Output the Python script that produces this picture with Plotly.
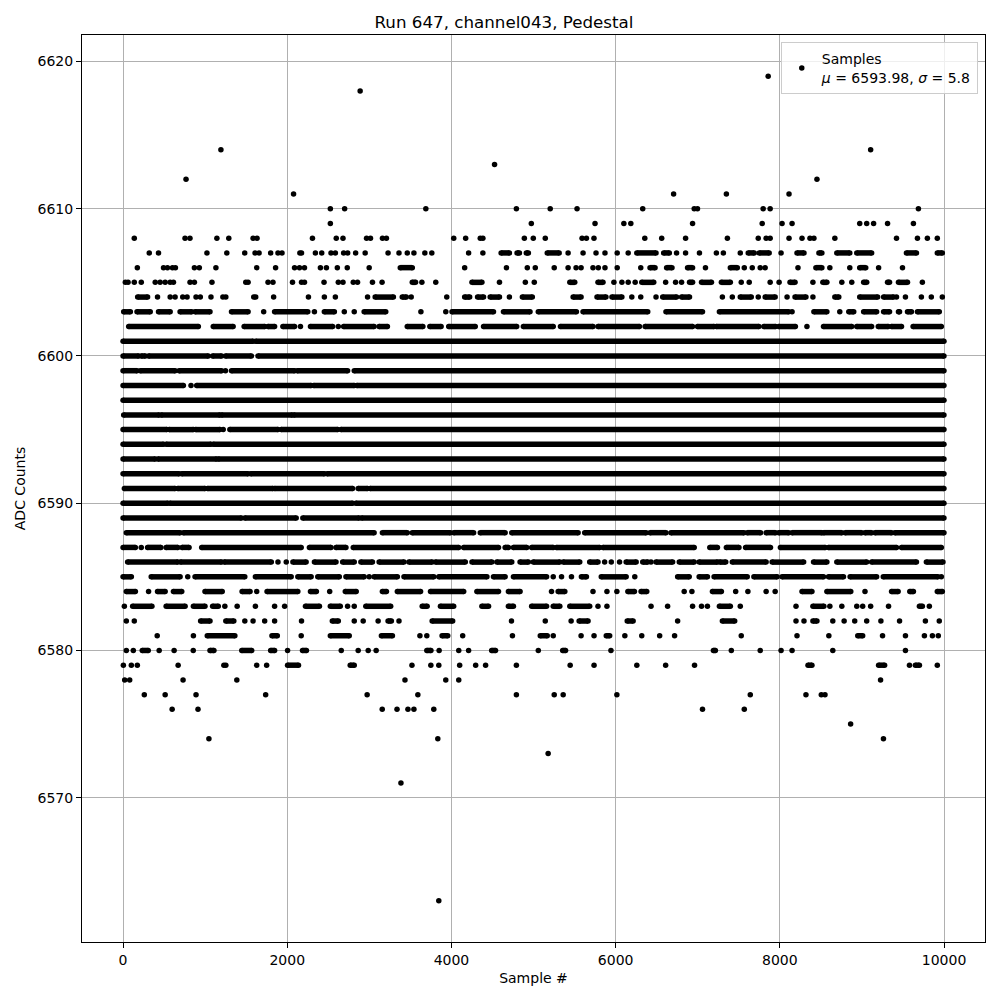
import plotly.graph_objects as go

# ADC levels (counts) and, for each level, the sample indices where dots appear.
# An int is a single sample; a (start, end) pair is a run of adjacent samples.
levels = [6563, 6571, 6573, 6574, 6575, 6576, 6577, 6578, 6579, 6580, 6581, 6582,
          6583, 6584, 6585, 6586, 6587, 6588, 6589, 6590, 6591, 6592, 6593, 6594,
          6595, 6596, 6597, 6598, 6599, 6600, 6601, 6602, 6603, 6604, 6605, 6606,
          6607, 6608, 6609, 6610, 6611, 6612, 6613, 6614, 6618, 6619]

s6563 = [3846]
s6571 = [3385]
s6573 = [5178]
s6574 = [1046, 3834, 9262]
s6575 = [8862]
s6576 = [598, 913, 3157, 3337, 3470, 3543, 3785, 7058, 7567]
s6577 = [259, 513, 889, 1737, 2973, 3591, 4791, 5252, 5361, 6015, 7640, 8318, 8505, 8550]
s6578 = [20, 81, 731, 1386, 3434, 3931, 4089, 9227]
s6579 = [4, 101, 174, 671, 1228, 1252, 1628, 1749, (2004, 2137), (2767, 2816), 3519, 3749,
         3846, 4100, 4295, 4416, 4791, 5446, 5737, 6258, 6609, 6961, (8343, 8391),
         (9203, 9276), 9579, (9651, 9700), 9918]
s6580 = [40, 125, (234, 307), 440, 622, 855, (1059, 1107), (1446, 1567), (1798, 1846), 2004,
         (2186, 2234), 2658, 2864, 2986, 3083, (3700, 3750), 3850, 4089, 4209, (4490, 4537),
         5058, (5355, 5390), 5943, (7191, 7215), 7409, 7761, 8015, 8149, 8645, 9530]
s6581 = [416, 857, (1026, 1362), (1814, 1879), 2170, (2525, 2755), (3147, 3281), 3616, 3700,
         (3886, 3955), 4137, 4743, (5082, 5167), 5240, 5579, 5737, (5886, 5927), 6112, 6318,
         6536, 6718, 7530, 8209, 8597, (8949, 9009), 9251, 9530, 9761, 9858, 9930]
s6582 = [40, 137, (945, 1059), (1252, 1349), 1483, 1584, 1725, 1846, 2174, (2549, 2622), 2816,
         2925, 3107, (3228, 3268), 3361, (3765, 4015), 4731, 5143, 5458, (5555, 5664),
         (6141, 6213), 6755, (7300, 7450), 8197, 8294, (8403, 8452), 8645, 8783, 8912, 9058,
         9231, 9458, 9773, 9942]
s6583 = [16, (117, 352), (525, 756), (857, 998), (1091, 1160), 1240, 1390, 1612, 1846, 1968,
         (2222, 2392), (2525, 2646), 2735, 2816, (2957, 3260), (3644, 3704), (3866, 4027),
         (4371, 4452), (4694, 4755), (4977, 5159), (5240, 5320), (5442, 5684), 5785, 5894,
         6431, 6633, 6937, 7046, 7118, (7264, 7397), 7518, 8197, (8403, 8536), 8609, 8755,
         8937, 9009, 9106, 9324, (9700, 9736), 9821]
s6584 = [(40, 150), 311, (420, 513), (614, 715), (998, 1208), (1450, 1547), 1628, (1754, 2129),
         (2283, 2355), 2517, (2707, 2840), (3159, 3208), (3341, 3624), (3745, 4149),
         (4310, 4573), (4694, 4836), 5219, (5300, 5381), 5724, 5894, 6015, (6149, 6229),
         (6310, 6379), 6835, 6929, (7179, 7288), 7462, 7611, 7833, 7943, (8270, 8391),
         (8573, 8864), 9037, (9361, 9441), (9583, 9627), (9918, 9979)]
s6585 = [(0, 101), (343, 695), 788, (877, 1483), (1612, 2048), (2129, 2291), (2372, 2634),
         (2715, 2937), 2998, (3058, 3341), (3422, 3785), (3846, 4432), (4512, 4654),
         (4755, 5159), 5240, 5341, 5462, (5583, 5644), (5825, 6128), 6233, (6755, 6896),
         (7017, 7118), (7199, 7603), (7684, 7967), (8027, 8532), (8593, 8775), (8856, 9179),
         (9260, 9926), 9967]
s6586 = [(56, 667), (699, 1200), (1232, 1806), 1887, 1988, (2069, 2230), (2331, 2594),
         (2675, 2816), (2897, 3038), (3119, 3422), (3482, 3765), (3805, 4169), (4250, 4492),
         (4553, 4735), (4836, 4937), (4997, 5320), (5361, 5563), (5684, 5785), 5866, 5947,
         6048, (6128, 6250), (6330, 6391), 6431, (6492, 6694), (6775, 6957), (7017, 7240),
         (7268, 7341), (7421, 7833), (7906, 8290), (8411, 8573), (8694, 9058), (9118, 9664),
         (9785, 9987)]
s6587 = [(0, 150), 222, (299, 461), (525, 667), (719, 804), (958, 2170), (2270, 2533),
         (2594, 2715), (2804, 4088), (4149, 4573), (4654, 4694), (4755, 4917), (4977, 5240),
         (5280, 5805), (5846, 6957), (7147, 7240), (7349, 7502), (7583, 7886), (8007, 8553),
         (8593, 9421), (9482, 9967)]
s6588 = [(40, 695), (735, 3058), (3159, 3462), (3523, 3987), (4028, 4270), (4351, 4654),
         (4735, 5543), (5623, 6371), (6419, 6613), (6674, 7563), (7603, 7765), (7833, 7947),
         (7987, 8108), (8149, 8512), (8532, 8755), (8795, 8997), (9037, 9118), (9159, 9361),
         (9401, 9999)]
s6589 = [(0, 1442), (1483, 2109), (2190, 2876), (2905, 9999)]
s6590 = [(0, 545), (570, 2796), (2836, 9999)]
s6591 = [(16, 634), (667, 998), (1030, 1826), (1846, 2796), (2864, 2977), (3010, 9999)]
s6592 = [(0, 683), (715, 1523), (1555, 2452), (2485, 9999)]
s6593 = [(0, 392), (424, 1139), (1160, 9999)]
s6594 = [(0, 493), (525, 1071), (1099, 9999)]
s6595 = [(0, 533), (562, 856), (885, 1180), 1220, (1301, 1887), (1927, 2614), (2654, 9999)]
s6596 = [(8, 440), (465, 1180), (1200, 2060), (2080, 9999)]
s6597 = [(0, 9999)]
s6598 = [(0, 735), 828, (897, 2291), (2323, 2816), (2848, 9999)]
s6599 = [(0, 170), (210, 634), (683, 1200), 1248, (1321, 2089), (2121, 2735), (2816, 9999)]
s6600 = [(0, 190), (222, 271), (311, 1038), (1091, 1200), (1248, 1563), (1644, 9999)]
s6601 = [(0, 1584), (1616, 9999)]
s6602 = [(69, 917), (1099, 1341), (1475, 1725), (1766, 1846), (1947, 2089), 2161, (2283, 2553),
         2622, (2687, 3058), (3119, 3220), (3462, 3652), (3737, 3874), (3967, 4290),
         (4391, 4795), (4876, 5240), (5328, 5724), (5785, 6290), (6359, 6937), (6997, 7199),
         (7227, 7745), (7805, 7947), (7987, 8189), 8330, (8532, 8876), (8937, 9118),
         (9199, 9320), (9361, 9482), (9623, 9967)]
s6603 = [(8, 89), (170, 331), (432, 574), (695, 836), (877, 1059), (1321, 1523), 1713,
         (1846, 2250), 2331, (2452, 2574), 2695, 2816, (2937, 3200), 3628, 3931, (4007, 4512),
         (4634, 4957), (5058, 5522), (5603, 6391), (6613, 7058), (7264, 8108), 8149,
         (8415, 8573), 8730, (8840, 8900), (9021, 9179), (9264, 9336), (9445, 9458),
         (9555, 9603), (9676, 9942)]
s6604 = [(178, 299), 420, 574, 634, 727, 780, 889, 941, 1071, 1216, 1252, 1592, 1616, 1834,
         2258, 2452, 2586, 2978, (3071, 3293), (3401, 3450), 3510, 3943, (4161, 4222),
         (4318, 4391), (4472, 4585), 4706, (4864, 4985), (5482, 5579), (5773, 5882),
         (5955, 6076), 6197, 6306, 6492, (6573, 6742), (6803, 6900), 7300, 7421, (7518, 7652),
         7737, (7821, 7943), 8088, (8185, 8318), 8403, (8670, 8718), (8973, 9191),
         (9264, 9385), 9421, 9530, 9724, 9845, 9979]
s6605 = [28, 61, 137, 222, 392, 452, 513, 574, 614, 816, 869, 1083, 1495, 1523, 1766, 1826,
         2064, 2174, 2210, 2448, 2622, 2679, 2804, 2856, 3038, 3155, (3523, 3563), 3640,
         3809, (4250, 4371), 4585, 4900, 5009, (5442, 5502), (5785, 5846), 5979, 6076, 6153,
         6238, (6318, 6464), 6609, 6730, 6803, (6900, 6937), (7046, 7167), (7288, 7397), 7530,
         7627, 7882, 7991, (8124, 8185), 8403, (8524, 8573), 8755, 8876, (9021, 9058),
         (9312, 9336), (9445, 9555), 9736]
s6606 = [174, 493, 541, 602, 638, 869, 929, 1131, 1628, 1858, 2089, 2149, 2210, 2404, 2477,
         2610, 2731, 2998, (3377, 3523), 4161, 4670, 4924, 5021, 5252, 5421, 5518, 5579, 5724,
         5789, 5870, 6019, 6306, (6419, 6480), (6621, 6686), (6876, 6937), 7094, (7397, 7482),
         7567, 7664, 7761, 7821, 8221, (8439, 8512), 8609, 8852, (8973, 9046), 9203, 9494]
s6607 = [319, 432, 1022, 1264, 1482, 1608, 1657, 1798, 1887, 1936, 2154, 2174, 2343, 2420,
         2533, 2586, 2687, 2736, 2833, 2949, 3228, 3361, 3462, 3543, 3676, 3761, 4209, 4383,
         (4605, 4706), (4799, 4828), (4912, 4937), (5167, 5312), 5421, 5603, 5761, 5870, 6019,
         6153, (6258, 6492), (6585, 6654), 6742, 6852, 7021, 7227, 7312, 7518, (7615, 7688),
         (7749, 7870), 8015, (8209, 8294), (8476, 8512), (8694, 8852), (8937, 9118),
         (9542, 9664), (9918, 9979)]
s6608 = [137, 755, 815, 1143, 1288, 1584, 1632, 2307, 2597, 2679, 2966, 3014, 3160, 3208,
         4028, 4173, 4351, 4383, 4888, 4997, 5143, 5591, 5644, 5736, 6355, 6561, 6852, 7361,
         7737, 7833, 7882, 8112, 8270, 8367, 8415, 8670, 9421, 9676, 9797, 9918]
s6609 = [2525, 4973, 5749, 6100, 6185, 6937, 7785, 8027, 8149, 8973, 9058, 9142, 9312, 9627]
s6610 = [2525, 2699, 3688, 4791, 5203, 5530, 6330, 6957, 6997, 7797, 7882, 9688]
s6611 = [2077, 6706, 7349, 8112]
s6612 = [767, 8452]
s6613 = [4525]
s6614 = [1192, 9106]
s6618 = [2888]
s6619 = [7858]

samples = [s6563, s6571, s6573, s6574, s6575, s6576, s6577, s6578, s6579, s6580, s6581,
           s6582, s6583, s6584, s6585, s6586, s6587, s6588, s6589, s6590, s6591, s6592,
           s6593, s6594, s6595, s6596, s6597, s6598, s6599, s6600, s6601, s6602, s6603,
           s6604, s6605, s6606, s6607, s6608, s6609, s6610, s6611, s6612, s6613, s6614,
           s6618, s6619]

title = "Run 647, channel043, Pedestal"
legend_label = "Samples<br><i>μ</i> = 6593.98, <i>σ</i> = 5.8"
x_ticks = [0, 2000, 4000, 6000, 8000, 10000]
y_ticks = [6570, 6580, 6590, 6600, 6610, 6620]

xs, ys = [], []
for lvl, items in zip(levels, samples):
    for it in items:
        if isinstance(it, tuple):
            xs += [it[0], it[1], None]
            ys += [lvl, lvl, None]
        else:
            xs += [it, None]
            ys += [lvl, None]

DOT = 5.5
fig = go.Figure()
fig.add_trace(go.Scatter(
    x=xs, y=ys, mode="lines+markers", connectgaps=False,
    line=dict(color="black", width=DOT),
    marker=dict(color="black", size=DOT),
    showlegend=False, hoverinfo="skip"))
fig.add_trace(go.Scatter(
    x=[None], y=[None], mode="markers",
    marker=dict(color="black", size=DOT),
    name=legend_label, showlegend=True))

font = "DejaVu Sans, Liberation Sans, sans-serif"
xmin, xmax = 0, 9999
ymin, ymax = 6563, 6619
xpad = (xmax - xmin) * 0.05
ypad = (ymax - ymin) * 0.05

axis_common = dict(
    showline=True, mirror=True, linecolor="black", linewidth=1,
    ticks="outside", ticklen=5, tickwidth=1, tickcolor="black",
    showgrid=True, gridcolor="#b0b0b0", gridwidth=1, zeroline=False,
    tickfont=dict(family=font, size=14, color="black"),
    tickformat="d",
)

fig.update_layout(
    width=992, height=992,
    margin=dict(l=72, r=15, t=27, b=58),
    paper_bgcolor="white", plot_bgcolor="white",
    title=dict(text=title, x=0.5, xanchor="center", y=0.986, yanchor="middle",
               font=dict(family=font, size=16.7, color="black")),
    xaxis=dict(range=[xmin - xpad, xmax + xpad], tickvals=x_ticks,
               title=dict(text="Sample #", font=dict(family=font, size=14, color="black"),
                          standoff=6),
               **axis_common),
    yaxis=dict(range=[ymin - ypad, ymax + ypad], tickvals=y_ticks,
               title=dict(text="ADC Counts", font=dict(family=font, size=14, color="black"),
                          standoff=8),
               **axis_common),
    legend=dict(x=0.992, y=0.992, xanchor="right", yanchor="top",
                bgcolor="rgba(255,255,255,0.8)", bordercolor="#cccccc", borderwidth=1,
                font=dict(family=font, size=14, color="black")),
    font=dict(family=font, color="black"),
)

fig.write_html("out.html")
